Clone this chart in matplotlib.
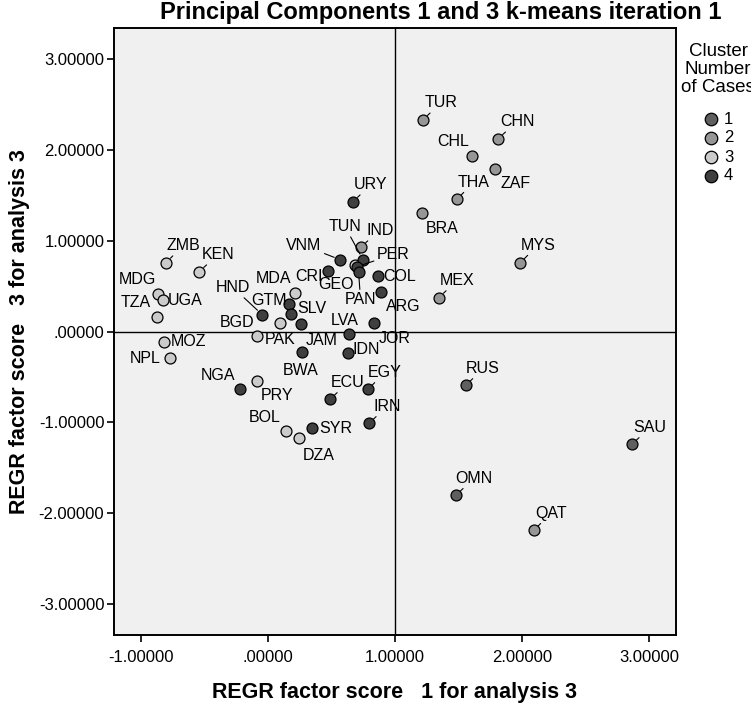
# Principal components 1 and 3, k-means iteration 1 (SPSS-style scatter)
import matplotlib
matplotlib.use("Agg")
import matplotlib.pyplot as plt
from matplotlib.lines import Line2D

plt.rcParams.update({
    "font.family": ["Liberation Sans", "DejaVu Sans"],
    "font.size": 11,
})

# ------------------------------------------------------------------
# Data
# ------------------------------------------------------------------
countries = ["TUR", "CHN", "CHL", "ZAF", "THA", "BRA", "MYS", "MEX", "IND", "QAT",
             "RUS", "SAU", "OMN",
             "URY", "TUN", "VNM", "PER", "PAN", "CRI", "COL", "ARG", "GTM", "SLV",
             "HND", "JAM", "LVA", "JOR", "BWA", "IDN", "NGA", "ECU", "EGY", "SYR", "IRN",
             "GEO", "MDA", "BGD", "PAK", "ZMB", "KEN", "MDG", "UGA", "TZA", "MOZ",
             "NPL", "PRY", "BOL", "DZA"]
pc1 = [1.220, 1.811, 1.610, 1.787, 1.488, 1.209, 1.984, 1.346, 0.732, 2.094,
       1.559, 2.866, 1.480,
       0.669, 0.748, 0.567, 0.701, 0.713, 0.472, 0.866, 0.890, 0.165, 0.181,
       -0.047, 0.260, 0.638, 0.835, 0.264, 0.630, -0.217, 0.488, 0.787, 0.350, 0.795,
       0.685, 0.213, 0.094, -0.087, -0.803, -0.543, -0.866, -0.827, -0.874, -0.819,
       -0.772, -0.087, 0.142, 0.244]
pc3 = [2.330, 2.121, 1.934, 1.791, 1.456, 1.308, 0.753, 0.374, 0.934, -2.187,
       -0.593, -1.242, -1.802,
       1.429, 0.791, 0.791, 0.714, 0.659, 0.670, 0.615, 0.440, 0.308, 0.198,
       0.187, 0.088, -0.027, 0.099, -0.231, -0.242, -0.637, -0.747, -0.637, -1.066, -1.011,
       0.736, 0.429, 0.099, -0.055, 0.758, 0.659, 0.418, 0.352, 0.165, -0.121,
       -0.297, -0.544, -1.099, -1.176]
cluster = [2, 2, 2, 2, 2, 2, 2, 2, 2, 2,
           1, 1, 1,
           4, 4, 4, 4, 4, 4, 4, 4, 4, 4,
           4, 4, 4, 4, 4, 4, 4, 4, 4, 4, 4,
           3, 3, 3, 3, 3, 3, 3, 3, 3, 3,
           3, 3, 3, 3]

cluster_ids = [1, 2, 3, 4]
legend_title = ["Cluster", "Number", "of Cases"]
x_ticks = [-1, 0, 1, 2, 3]
y_ticks = [-3, -2, -1, 0, 1, 2, 3]

# ------------------------------------------------------------------
# Layout / style
# ------------------------------------------------------------------
cluster_colors = {1: "#5f5f5f", 2: "#969696", 3: "#cbcbcb", 4: "#3f3f3f"}
draw_order = [3, 2, 1, 4]

# label offsets in pixels from the point (dx, dy up)
label_offsets = {
    "TUR": (18, 17), "CHN": (19, 17), "CHL": (-19, 14), "ZAF": (21, -15),
    "THA": (17, 17), "BRA": (21, -16), "MYS": (18, 18), "MEX": (18, 17),
    "IND": (19, 16), "QAT": (17, 17), "RUS": (17, 17), "SAU": (18, 17),
    "OMN": (18, 17), "URY": (18, 17), "TUN": (-18, 33), "VNM": (-36, 14),
    "PER": (36, 12), "PAN": (2, -28), "CRI": (-19, -6), "COL": (22, -1),
    "ARG": (22, -15), "GTM": (-20, 3), "SLV": (21, 5), "HND": (-29, 27),
    "JAM": (21, -17), "LVA": (-4, 13), "JOR": (21, -16), "BWA": (-1, -18),
    "IDN": (18, 4), "NGA": (-22, 14), "ECU": (18, 17), "EGY": (17, 17),
    "SYR": (23, 0), "IRN": (18, 17), "GEO": (-19, -20), "MDA": (-22, 14),
    "BGD": (-43, 0), "PAK": (23, -3), "ZMB": (17, 17), "KEN": (19, 17),
    "MDG": (-21, 14), "UGA": (22, -1), "TZA": (-21, 14), "MOZ": (24, 1),
    "NPL": (-25, 0), "PRY": (20, -15), "BOL": (-21, 14), "DZA": (20, -17),
}
long_leaders = {"TUN", "VNM", "PER", "PAN", "HND"}

W, H = 751, 706


def tick_fmt(v):
    s = f"{v:.5f}"
    return s[1:] if s.startswith("0.") else s


def main():
    fig = plt.figure(figsize=(W / 100, H / 100), dpi=100)
    ax = fig.add_axes([114 / W, 71 / H, 562 / W, 607 / H])
    ax.set_facecolor("#f0f0f0")

    ax.axvline(1.0, color="black", linewidth=1.0, zorder=1)
    ax.axhline(0.0, color="black", linewidth=1.0, zorder=1)

    for c in draw_order:
        xs = [x for x, k in zip(pc1, cluster) if k == c]
        ys = [y for y, k in zip(pc3, cluster) if k == c]
        ax.scatter(xs, ys, s=62, facecolor=cluster_colors[c], edgecolor="black",
                   linewidth=0.9, zorder=3)

    for name, x, y in zip(countries, pc1, pc3):
        dx, dy = label_offsets[name]
        leader = name in long_leaders or (dx > 10 and dy > 10)
        props = None
        if leader:
            props = dict(arrowstyle="-", color="black", linewidth=0.8,
                         shrinkA=0, shrinkB=4.5)
        ax.annotate(name, (x, y), xytext=(dx, dy), textcoords="offset pixels",
                    ha="center", va="center", fontsize=11.5, arrowprops=props,
                    zorder=4)

    ax.set_xlim(-1.213, 3.213)
    ax.set_ylim(-3.34, 3.34)
    ax.set_xticks(x_ticks)
    ax.set_yticks(y_ticks)
    ax.set_xticklabels([tick_fmt(v) for v in x_ticks])
    ax.set_yticklabels([tick_fmt(v) for v in y_ticks])
    ax.tick_params(direction="out", length=5, width=1.2, labelsize=12, pad=2)
    ax.tick_params(axis="x", pad=6)
    for sp in ax.spines.values():
        sp.set_linewidth(1.4)

    ax.set_xlabel("REGR factor score   1 for analysis 3", fontsize=15.5,
                  fontweight="bold", labelpad=12)
    ax.set_ylabel("REGR factor score   3 for analysis 3", fontsize=15.5,
                  fontweight="bold", labelpad=6)

    fig.text(441 / W, 1 - 12 / H, "Principal Components 1 and 3 k-means iteration 1",
             ha="center", va="center", fontsize=17, fontweight="bold",
             family=["Liberation Sans Narrow", "Liberation Sans"])

    # Legend drawn by hand (SPSS places it flush against the right edge)
    for i, line in enumerate(legend_title):
        fig.text(718 / W, 1 - (51 + 18.5 * i) / H, line, ha="center", va="center",
                 fontsize=13.5)
    for i, c in enumerate(cluster_ids):
        yy = 1 - (119 + 19 * i) / H
        fig.add_artist(Line2D([711 / W], [yy], transform=fig.transFigure,
                              linestyle="none", marker="o", markersize=9,
                              markerfacecolor=cluster_colors[c],
                              markeredgecolor="black", markeredgewidth=0.9))
        fig.text(724 / W, yy, str(c), ha="left", va="center", fontsize=12)

    fig.savefig("out.png", dpi=100)


if __name__ == "__main__":
    main()
